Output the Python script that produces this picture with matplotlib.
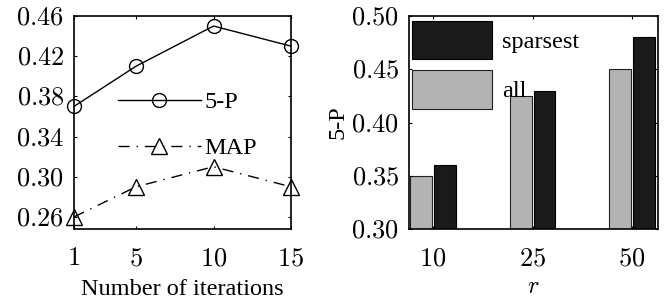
import matplotlib
matplotlib.use("Agg")
import matplotlib.pyplot as plt
from matplotlib.patches import Patch

plt.rcParams['font.family'] = ['Liberation Serif', 'DejaVu Serif']
plt.rcParams['mathtext.fontset'] = 'cm'

# Left panel data
iterations = [1, 5, 10, 15]
p5_values = [0.37, 0.41, 0.45, 0.43]
map_values = [0.26, 0.29, 0.31, 0.29]
left_yticks = [0.26, 0.30, 0.34, 0.38, 0.42, 0.46]

# Right panel data
r_labels = ['10', '25', '50']
all_values = [0.35, 0.425, 0.45]
sparsest_values = [0.36, 0.43, 0.48]
right_yticks = [0.30, 0.35, 0.40, 0.45, 0.50]

fig = plt.figure(figsize=(6.66, 3.05), dpi=100)
W, H = 666, 305

def add_ax(l, t, r, b):
    return fig.add_axes([l / W, 1 - b / H, (r - l) / W, (b - t) / H])

tick_fs = 19
lab_fs = 17.5

def style(ax):
    ax.tick_params(direction='in', length=2.5, width=0.8, top=True, right=True,
                   labelsize=tick_fs)
    ax.tick_params(axis='y', pad=7)
    ax.tick_params(axis='x', pad=14)
    for s in ax.spines.values():
        s.set_linewidth(1.2)

# Left axes
ax1 = add_ax(74, 16, 291, 229)
ax1.plot(iterations, p5_values, '-', color='black', lw=1.0, marker='o', ms=10,
         mfc='none', mec='black', mew=1.0, clip_on=False, label='5-P')
ax1.plot(iterations, map_values, color='black', lw=1.0, dashes=(8, 5, 1, 5),
         marker='^', ms=11, mfc='none', mec='black', mew=1.0, clip_on=False,
         label='MAP')
ax1.set_xlim(1, 15)
ax1.set_ylim(0.248, 0.46)
ax1.set_xticks(iterations)
ax1.set_xticklabels([f'${v}$' for v in iterations])
ax1.set_yticks(left_yticks)
ax1.set_yticklabels([f'${v:.2f}$' for v in left_yticks])
ax1.set_xlabel('Number of iterations', fontsize=lab_fs, labelpad=6)
style(ax1)
ax1.legend(loc='upper left', bbox_to_anchor=((118 - 74) / 217, 1 - (91 - 16) / 213),
           frameon=False, fontsize=lab_fs, handlelength=3.4, labelspacing=1.0,
           handletextpad=0.15, borderpad=0, borderaxespad=0)

# Right axes
ax2 = add_ax(409, 16, 658, 229)
pos = [1, 2, 3]
w = 0.22
ax2.bar([p - 0.12 for p in pos], all_values, width=w, color='#b3b3b3',
        edgecolor='#222222', lw=0.8, label='all')
ax2.bar([p + 0.12 for p in pos], sparsest_values, width=w, color='#1a1a1a',
        edgecolor='#000000', lw=0.8, label='sparsest')
ax2.set_xlim(0.76, 3.26)
ax2.set_ylim(0.30, 0.50)
ax2.set_xticks(pos)
ax2.set_xticklabels([f'${v}$' for v in r_labels])
ax2.set_yticks(right_yticks)
ax2.set_yticklabels([f'${v:.2f}$' for v in right_yticks])
ax2.set_xlabel('$r$', fontsize=lab_fs, labelpad=5)
ax2.set_ylabel('5-P', fontsize=lab_fs, labelpad=2)
style(ax2)
handles = [Patch(facecolor='#1a1a1a', edgecolor='#000000', lw=0.8),
           Patch(facecolor='#b3b3b3', edgecolor='#222222', lw=0.8)]
ax2.legend(handles, ['sparsest', 'all'], loc='upper left',
           bbox_to_anchor=((412 - 409) / 249, 1 - (21 - 16) / 213),
           frameon=False, fontsize=lab_fs, handlelength=3.3, handleheight=2.05,
           labelspacing=0.45, handletextpad=0.4, borderpad=0, borderaxespad=0)

fig.savefig('out.png', dpi=100)
